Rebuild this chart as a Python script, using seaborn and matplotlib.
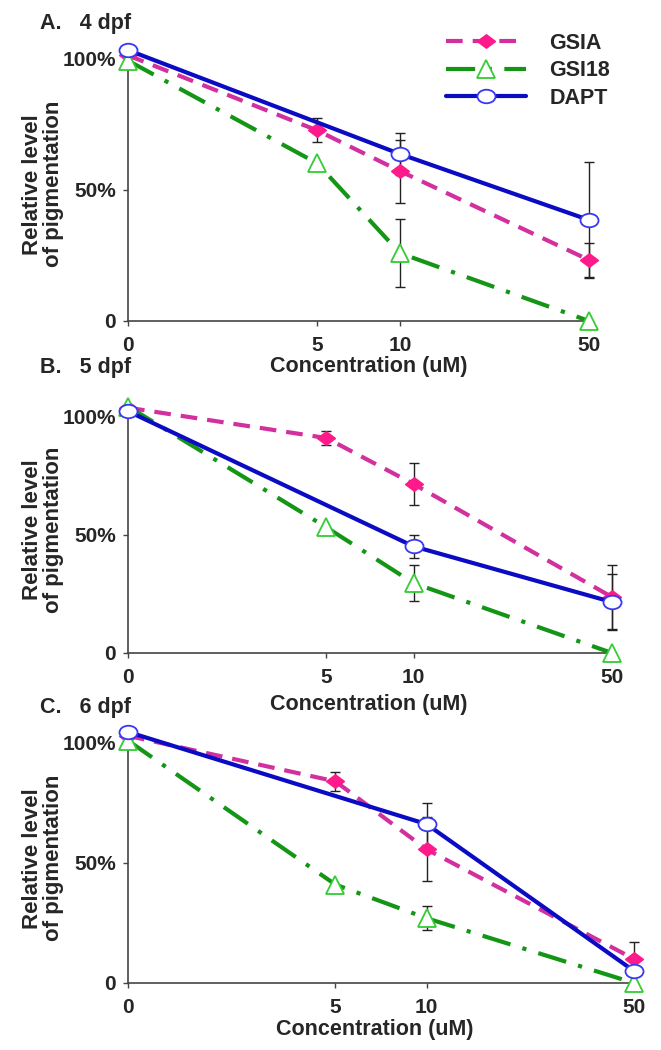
import numpy as np
import pandas as pd
import seaborn as sns
import matplotlib.pyplot as plt
from matplotlib.path import Path

# concentrations (uM) on the x axis
conc = [0, 5, 10, 50]
conc_labels = ['0', '5', '10', '50']
compounds = ['GSIA', 'GSI18', 'DAPT']
panel_titles = ['A.   4 dpf', 'B.   5 dpf', 'C.   6 dpf']

# relative pigmentation (fraction of control)
gsia_4 = [1.01, 0.725, 0.57, 0.232]
gsia_4_err = [0, 0.045, 0.12, 0.063]
gsi18_4 = [0.99, 0.60, 0.258, 0.0]
gsi18_4_err = [0, 0, 0.13, 0]
dapt_4 = [1.03, np.nan, 0.635, 0.384]
dapt_4_err = [0, np.nan, 0.08, 0.22]

gsia_5 = [1.035, 0.907, 0.713, 0.236]
gsia_5_err = [0, 0.03, 0.09, 0.135]
gsi18_5 = [1.04, 0.53, 0.295, 0.0]
gsi18_5_err = [0, 0, 0.075, 0]
dapt_5 = [1.02, np.nan, 0.45, 0.215]
dapt_5_err = [0, np.nan, 0.05, 0.118]

gsia_6 = [1.03, 0.84, 0.557, 0.10]
gsia_6_err = [0, 0.04, 0.133, 0.07]
gsi18_6 = [1.01, 0.41, 0.27, 0.0]
gsi18_6_err = [0, 0, 0.05, 0]
dapt_6 = [1.046, np.nan, 0.662, 0.05]
dapt_6_err = [0, np.nan, 0.09, 0]

panels = [
    {'GSIA': (gsia_4, gsia_4_err), 'GSI18': (gsi18_4, gsi18_4_err), 'DAPT': (dapt_4, dapt_4_err)},
    {'GSIA': (gsia_5, gsia_5_err), 'GSI18': (gsi18_5, gsi18_5_err), 'DAPT': (dapt_5, dapt_5_err)},
    {'GSIA': (gsia_6, gsia_6_err), 'GSI18': (gsi18_6, gsi18_6_err), 'DAPT': (dapt_6, dapt_6_err)},
]

# non-linear x axis as in the original (0, 5, 10, 50 unevenly spaced)
tick_frac = [0, 0.41, 0.59, 1.0]


def fwd(x):
    return np.interp(x, conc, tick_frac)


def inv(x):
    return np.interp(x, tick_frac, conc)


# flattened marker shapes
circ = Path.unit_circle()
ellipse = Path(circ.vertices * [1, 0.75], circ.codes)
diamond = Path([(0, 0.75), (1, 0), (0, -0.75), (-1, 0), (0, 0.75)],
               [Path.MOVETO, Path.LINETO, Path.LINETO, Path.LINETO, Path.CLOSEPOLY])

styles = {
    'GSIA': dict(color='#D1309E', linestyle=(0, (4, 2.4)), marker=diamond,
                 markerfacecolor='#FF1A8C', markeredgecolor='#FF1A8C', markersize=12.5),
    'GSI18': dict(color='#159515', linestyle=(0, (7, 3, 1, 3)), marker='^',
                  markerfacecolor='white', markeredgecolor='#33CC33', markersize=12.5),
    'DAPT': dict(color='#0B0BC4', linestyle='-', marker=ellipse,
                 markerfacecolor='white', markeredgecolor='#3838F0', markersize=13),
}

sns.set_style('ticks')
plt.rcParams['font.family'] = ['Liberation Sans', 'DejaVu Sans']
plt.rcParams['font.weight'] = 'bold'

fig = plt.figure(figsize=(6.61, 10.5), dpi=100)
W, H = 661.0, 1050.0

# axes boxes in pixels: left, right, y of 0, pixels per unit
boxes = [(128, 589, 321, 263), (128, 612, 653, 237), (128, 634, 983, 240)]
title_y = [23, 368, 708]
xlabel_pos = [(369, 356), (369, 694), (375, 1019)]
ymax = 1.04

for i, (left, right, y0, ppu) in enumerate(boxes):
    ax = fig.add_axes([left / W, (H - y0) / H, (right - left) / W, ymax * ppu / H])
    ax.set_xscale('function', functions=(fwd, inv))

    for name in compounds:
        vals, errs = panels[i][name]
        df = pd.DataFrame({'conc': conc, 'value': vals, 'err': errs}).dropna()
        eb = df[df['err'] > 0]
        ax.errorbar(eb['conc'], eb['value'], yerr=eb['err'], fmt='none',
                    ecolor='#222222', elinewidth=1, capsize=3.5, capthick=1,
                    zorder=2, clip_on=False)
        sns.lineplot(data=df, x='conc', y='value', ax=ax, label=name,
                     linewidth=3, markeredgewidth=1.3, clip_on=False,
                     zorder=3, legend=False, **styles[name])

    ax.set_xlim(0, 50)
    ax.set_ylim(0, ymax)
    ax.set_xticks(conc)
    ax.set_xticklabels(conc_labels)
    ax.set_yticks([0, 0.5, 1.0])
    ax.set_yticklabels(['0', '50%', '100%'])
    ax.tick_params(axis='both', labelsize=15, length=3.5, width=1,
                   color='#444444', pad=5)
    ax.tick_params(axis='x', pad=7)
    for lab in ax.get_xticklabels() + ax.get_yticklabels():
        lab.set_fontweight('bold')
    sns.despine(ax=ax)
    for s in ['left', 'bottom']:
        ax.spines[s].set_color('#444444')
        ax.spines[s].set_linewidth(1.2)

    ax.set_xlabel('Concentration (uM)', fontsize=15.5, fontweight='bold')
    lx, ly = xlabel_pos[i]
    ax.xaxis.set_label_coords((lx - left) / (right - left), (y0 - ly) / (ymax * ppu))
    ax.set_ylabel('Relative level\nof pigmentation', fontsize=16, fontweight='bold',
                  linespacing=1.0)
    ax.yaxis.set_label_coords(-(128 - 64) / (right - left), 0.5)

    fig.text(40 / W, 1 - title_y[i] / H, panel_titles[i], fontsize=15.5,
             fontweight='bold', va='center', ha='left')

    if i == 0:
        ax.legend(loc='upper left', bbox_to_anchor=(446 / W, 1 - 33 / H),
                  bbox_transform=fig.transFigure, frameon=False, fontsize=15.5,
                  handlelength=3.7, handletextpad=1.1, labelspacing=0.3,
                  borderpad=0, borderaxespad=0, numpoints=1)
        for t in ax.get_legend().get_texts():
            t.set_fontweight('bold')

fig.savefig('out.png', dpi=100)
